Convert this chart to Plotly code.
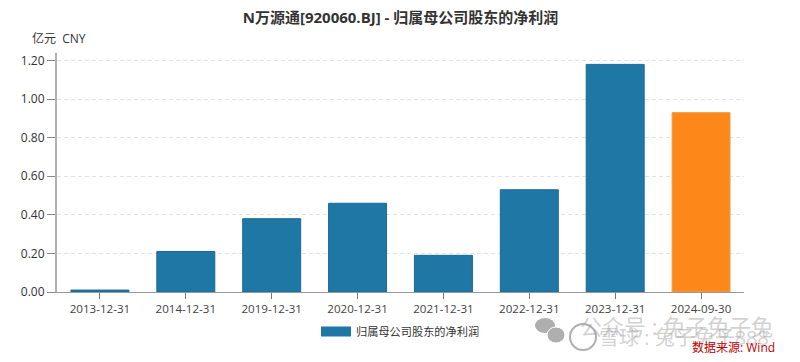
import plotly.graph_objects as go

categories = ["2013-12-31", "2014-12-31", "2019-12-31", "2020-12-31", "2021-12-31", "2022-12-31", "2023-12-31", "2024-09-30"]
annual_categories = categories[:7]
annual_values = [0.01, 0.21, 0.38, 0.46, 0.19, 0.53, 1.18]
latest_categories = categories[7:]
latest_values = [0.93]
y_ticks = [0, 0.2, 0.4, 0.6, 0.8, 1.0, 1.2]
y_labels = ["0.00", "0.20", "0.40", "0.60", "0.80", "1.00", "1.20"]
series_name = "归属母公司股东的净利润"
title_text = "N万源通[920060.BJ] - 归属母公司股东的净利润"
FONT = "'Open Sans','Noto Sans CJK SC',sans-serif"

# the page body has an 8 px margin: the figure sits at (8, 8)
W, H = 784, 354
L, R, T, B = 49, 48, 45, 70
pw, ph = W - L - R, H - T - B
def px(x): return (x - 8 - L) / pw
def py(y): return 1 - (y - 8 - T) / ph

fig = go.Figure()
fig.add_bar(x=annual_categories, y=annual_values, name=series_name, showlegend=False,
            marker=dict(color="#1f77a6", line=dict(color="#1b6a92", width=1)), width=0.675)
fig.add_bar(x=latest_categories, y=latest_values, name="latest", showlegend=False,
            marker=dict(color="#fb8818", line=dict(color="#f0a050", width=1)), width=0.675)
fig.add_scatter(x=[None], y=[None], mode="lines", name=series_name,
                line=dict(color="#1f77a6", width=10))

GREY = "rgba(165,165,165,0.5)"
ICON = "rgba(175,175,175,1)"
fig.update_layout(
    width=W, height=H, autosize=False,
    margin=dict(l=L, r=R, t=T, b=B),
    paper_bgcolor="white", plot_bgcolor="white",
    font=dict(family=FONT, size=12, color="#333333"),
    showlegend=True,
    title=dict(text=title_text, x=0.5, xanchor="center", xref="paper", y=1 - 10 / H, yanchor="middle",
               font=dict(family=FONT, size=15, color="#333333", weight="bold")),
    legend=dict(orientation="h", x=px(316), xanchor="left", y=py(346), yanchor="bottom",
                font=dict(size=11.2, color="#333333"), itemwidth=30, bgcolor="rgba(0,0,0,0)"),
    xaxis=dict(type="category", categoryorder="array", categoryarray=categories,
               range=[-0.5, 7.5], showline=True, linecolor="#999999", linewidth=1,
               ticks="outside", ticklen=6, tickcolor="#777777", tickfont=dict(size=11.6, color="#444444"),
               showgrid=False, zeroline=False),
    yaxis=dict(range=[0, 1.239], tickvals=y_ticks, ticktext=y_labels, showline=True,
               linecolor="#b0b0b0", linewidth=2, ticks="outside", ticklen=8, tickcolor="#888888",
               tickfont=dict(size=12, color="#333333"), showgrid=True, gridcolor="#e2e2e2",
               griddash="4px,3px", gridwidth=1, zeroline=False),
    annotations=[
        dict(text="亿元  CNY", xref="paper", yref="paper", x=px(30), y=py(38), xanchor="left", yanchor="middle",
             showarrow=False, font=dict(size=12, color="#333333")),
        dict(text="公众号 : 兔子兔子兔", x=px(775), y=py(326), xref="paper", yref="paper", xanchor="right",
             yanchor="middle", showarrow=False, font=dict(size=22, color=GREY)),
        dict(text="雪球 : 兔子兔子888", x=px(597), y=py(337), xref="paper", yref="paper", xanchor="left",
             yanchor="middle", showarrow=False, font=dict(size=20, color=GREY)),
        dict(text="数据来源: Wind", x=px(777), y=py(347), xref="paper", yref="paper", xanchor="right",
             yanchor="middle", showarrow=False, font=dict(size=12, color="#c00000")),
    ],
    shapes=[
        dict(type="circle", xref="paper", yref="paper", x0=px(535), x1=px(555),
             y0=py(333), y1=py(318), fillcolor=ICON, line=dict(width=0), layer="above"),
        dict(type="circle", xref="paper", yref="paper", x0=px(547), x1=px(565),
             y0=py(343), y1=py(327), fillcolor=ICON, line=dict(color="white", width=1), layer="above"),
        dict(type="circle", xref="paper", yref="paper", x0=px(570), x1=px(596),
             y0=py(350), y1=py(324), fillcolor="rgba(0,0,0,0)", line=dict(color=ICON, width=2), layer="above"),
    ],
)

fig.write_html("out.html")
